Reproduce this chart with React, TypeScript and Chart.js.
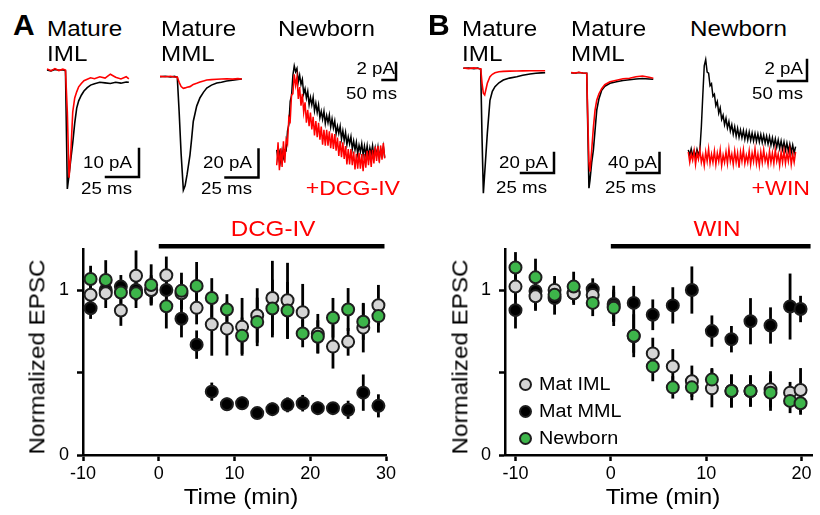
import React, { useEffect, useRef } from 'react';
import { Chart, registerables } from 'chart.js';

Chart.register(...registerables);

const FONT = '"Liberation Sans", Arial, Helvetica, sans-serif';
Chart.defaults.font.family = FONT;
Chart.defaults.color = '#000';

// ---------------- summary data (normalized EPSC) ----------------
const timeA = [-9, -7, -5, -3, -1, 1, 3, 5, 7, 9, 11, 13, 15, 17, 19, 21, 23, 25, 27, 29];
const matIML_A = [0.971, 0.981, 0.876, 1.087, 1.0, 1.09, 0.98, 0.892, 0.792, 0.766, 0.777, 0.846, 0.952, 0.938, 0.866, 0.735, 0.657, 0.686, 0.772, 0.908];
const matIML_A_err = [0.06, 0.09, 0.093, 0.153, 0.08, 0.113, 0.08, 0.1, 0.19, 0.163, 0.175, 0.165, 0.225, 0.227, 0.171, 0.12, 0.133, 0.084, 0.15, 0.123];
const matMML_A = [0.89, 1.0, 1.021, 1.0, 1.0, 1.0, 0.826, 0.669, 0.384, 0.308, 0.314, 0.254, 0.278, 0.304, 0.314, 0.284, 0.284, 0.274, 0.378, 0.298];
const matMML_A_err = [0.065, 0.06, 0.07, 0.06, 0.09, 0.06, 0.113, 0.086, 0.055, 0.04, 0.04, 0.03, 0.04, 0.045, 0.05, 0.04, 0.035, 0.055, 0.11, 0.07];
const newborn_A = [1.067, 1.061, 0.985, 0.981, 1.031, 0.902, 0.995, 1.025, 0.952, 0.882, 0.723, 0.807, 0.888, 0.876, 0.737, 0.717, 0.832, 0.882, 0.808, 0.842];
const newborn_A_err = [0.08, 0.12, 0.07, 0.09, 0.125, 0.135, 0.11, 0.145, 0.12, 0.093, 0.11, 0.147, 0.175, 0.173, 0.084, 0.1, 0.12, 0.13, 0.11, 0.1];

const timeB = [-10, -7.9, -5.9, -3.9, -1.9, 0.3, 2.4, 4.4, 6.5, 8.5, 10.6, 12.65, 14.65, 16.75, 18.8, 19.9];
const matIML_B = [1.021, 0.962, 1.001, 0.981, 0.97, 0.9, 0.72, 0.616, 0.537, 0.447, 0.404, 0.388, 0.388, 0.398, 0.378, 0.394];
const matIML_B_err = [0.08, 0.08, 0.084, 0.06, 0.06, 0.09, 0.1, 0.095, 0.105, 0.095, 0.115, 0.1, 0.095, 0.11, 0.065, 0.133];
const matMML_B = [0.878, 0.994, 0.951, 0.98, 1.005, 0.916, 0.922, 0.85, 0.907, 1.0, 0.751, 0.702, 0.811, 0.785, 0.9, 0.885];
const matMML_B_err = [0.111, 0.12, 0.1, 0.07, 0.066, 0.11, 0.103, 0.093, 0.11, 0.143, 0.095, 0.08, 0.14, 0.11, 0.2, 0.08];
const newborn_B = [1.137, 1.077, 0.971, 1.021, 0.922, 0.892, 0.723, 0.537, 0.41, 0.41, 0.457, 0.388, 0.388, 0.378, 0.328, 0.314];
const newborn_B_err = [0.093, 0.113, 0.06, 0.09, 0.08, 0.11, 0.13, 0.09, 0.068, 0.078, 0.07, 0.1, 0.095, 0.11, 0.074, 0.07];

const xTicksA = [-10, 0, 10, 20, 30];
const xTicksB = [-10, 0, 10, 20];
const yTicks = [0, 0.5, 1];
const drugA = [0, 29.8];
const drugB = [0, 20.95];

// ---------------- example EPSC traces (ms, pA) ----------------
const tIML_A = [0, 3, 6, 9, 12, 14, 15.4, 16.7, 18, 19.5, 21, 22.5, 24, 26, 28, 30.5, 33, 36, 40, 44, 48, 52, 56, 60, 62];
const blackIML_A = [0, -0.3, 0.2, -0.1, 0.1, -0.3, -42.5, -37.5, -32, -26, -19, -13.6, -11, -9, -7.5, -6.3, -5.4, -4.9, -4.4, -4.6, -4.8, -4.4, -4.7, -4.3, -4.4];
const redIML_A = [0.4, -0.3, 0.5, -0.2, 0.3, 0, -15, -38.5, -30, -15, -10, -7.8, -6, -4.8, -3.8, -3.3, -2.8, -3.1, -2.4, -2.9, -1.5, -2.6, -3.2, -2.4, -3.2];

const tMML_A = [0, 4, 8, 11, 13.1, 14.5, 16, 17.7, 19, 20.5, 22.7, 24, 25.2, 27.8, 30.3, 33, 35.4, 39, 43, 46.5, 50.5, 55, 59, 62];
const blackMML_A = [0, 0.3, -0.2, 0.2, -0.5, -25, -55, -81, -78, -70, -56, -44, -32, -21, -15, -11, -8.1, -6, -4.5, -4, -3.1, -2.5, -1.9, -1.6];
const redMML_A = [0.2, 0, 0.3, -0.2, -0.3, -4, -7, -8.3, -8, -7.5, -7.1, -6.3, -5.5, -4.7, -3.8, -3, -2.4, -2.1, -1.8, -1.6, -1.5, -1.7, -1.4, -1.6];

const tNB_A = [0, 5, 10, 15, 20, 25, 30, 35, 40, 45, 50, 55, 60, 65, 70, 75, 80, 85, 90, 95, 100, 105, 110, 115, 120, 125, 130, 135, 140, 145, 150, 155, 160, 165, 170, 175, 180, 185, 190, 195, 200, 205, 210, 215, 220, 225, 230, 235, 240, 245, 250, 255, 260, 265, 270, 275, 280, 285, 290, 295, 300, 305, 310, 315, 320, 325, 330, 335, 340, 345, 350, 355, 360, 365, 370, 375, 380, 385, 390, 395, 400];
const blackNB_A = [0.6, -0.5, 0.3, -0.8, 0.5, -0.3, 0.6, 0.5, 2.8, 3.6, 6.3, 7.0, 9.4, 10.5, 9.8, 10.2, 8.6, 9.4, 8.3, 8.9, 7.2, 7.8, 6.7, 7.5, 5.9, 6.8, 5.9, 6.8, 5.2, 6.1, 5.0, 5.9, 4.4, 5.15, 4.2, 5.15, 3.7, 4.65, 3.8, 4.7, 3.3, 4.25, 3.2, 4.0, 2.5, 3.4, 2.55, 3.4, 1.9, 2.85, 1.7, 2.65, 1.2, 2.15, 1.3, 2.15, 0.7, 1.65, 0.6, 1.5, 0.1, 1.15, 0.4, 1.35, 0.0, 1.05, 0.0, 1.1, -0.25, 0.85, 0.1, 1.1, -0.2, 0.85, -0.05, 0.95, -0.4, 0.7, 0.0, 1.0, -0.3];
const redNB_A = [-1.2, 1.5, -1.8, 0.8, -1.4, 1.6, -0.9, 1.8, 1.3, 4.4, 4.0, 7.1, 7.2, 9.5, 8.2, 9.2, 6.6, 8.0, 5.8, 7.2, 5.0, 6.2, 3.8, 5.3, 3.4, 5.0, 3.0, 4.5, 2.3, 4.0, 2.1, 3.8, 1.8, 3.35, 1.2, 2.95, 1.1, 2.95, 1.1, 2.8, 0.8, 2.55, 0.7, 2.45, 0.5, 2.05, -0.1, 1.65, -0.25, 1.5, -0.45, 1.05, -1.1, 0.7, -1.1, 0.7, -1.2, 0.4, -1.7, 0.15, -1.6, 0.25, -1.6, 0.1, -1.9, 0.1, -1.5, 0.5, -1.2, 0.55, -1.4, 0.6, -1.0, 1.0, -0.7, 1.05, -0.9, 1.1, -0.55, 1.4, -0.4];

const tIML_B = [0, 4, 8, 11, 13.2, 14.2, 15.2, 16.2, 18.2, 20.2, 22, 24, 27, 30.3, 35, 40.5, 45, 50.5, 55, 59, 62];
const blackIML_B = [0, 0.3, -0.3, 0.2, -1, -70, -125, -105, -65, -32, -23, -18.4, -14.5, -11.7, -9.8, -8.4, -7, -5.7, -5, -4.6, -4.4];
const redIML_B = [0.3, -0.3, 0.4, -0.2, -0.5, -15, -25, -26.7, -15, -8.5, -6, -4.5, -3.5, -3.1, -2.8, -2.7, -2.6, -2.5, -2.4, -2.5, -2.4];

const tMML_B = [0, 3, 6, 9, 12.1, 13, 13.8, 14.6, 15.9, 17.2, 18.5, 19.8, 21.5, 23.6, 26, 30, 35, 40, 45, 50, 55, 60, 63.3];
const blackMML_B = [0, -1, 0.5, -0.5, -1, -120, -231, -215, -180, -155, -115, -75, -52, -35, -27, -21, -18, -15.5, -14, -12.5, -11.5, -12.5, -13.2];
const redMML_B = [0.5, -0.8, 1, -0.5, -1, -100, -180, -198, -155, -110, -75, -55, -42, -32, -24, -18, -15, -12, -11, -8, -6.6, -9, -11.2];

const tNB_B = [0, 2.5, 5, 7.5, 10, 12.5, 15, 17.5, 20, 22.5, 25, 27.5, 30, 32.5, 35, 37.5, 40, 42.5, 45, 47.5, 50, 52.5, 55, 57.5, 60, 62.5, 65, 67.5, 70, 72.5, 75, 77.5, 80, 82.5, 85, 87.5, 90, 92.5, 95, 97.5, 100, 102.5, 105, 107.5, 110, 112.5, 115, 117.5, 120, 122.5, 125, 127.5, 130, 132.5, 135, 137.5, 140, 142.5, 145, 147.5, 150, 152.5, 155, 157.5, 160, 162.5, 165, 167.5, 170, 172.5, 175, 177.5, 180, 182.5, 185];
const blackNB_B = [0.3, -0.2, 0.4, -0.3, 0.2, -0.35, 0.35, -0.2, 0.3, 2.5, 5.5, 8.3, 8.9, 7.7, 7.6, 6.4, 6.6, 5.4, 5.6, 4.5, 4.9, 3.8, 4.3, 3.2, 3.6, 2.7, 3.3, 2.4, 3.0, 2.1, 2.7, 1.8, 2.5, 1.6, 2.35, 1.5, 2.2, 1.45, 2.15, 1.3, 2.05, 1.25, 2.0, 1.2, 1.9, 1.15, 1.85, 1.1, 1.8, 1.05, 1.75, 1.0, 1.7, 0.95, 1.6, 0.85, 1.55, 0.75, 1.45, 0.65, 1.35, 0.55, 1.25, 0.45, 1.15, 0.35, 1.05, 0.25, 0.95, 0.15, 0.85, 0.05, 0.75, 0.0, 0.6];
const redNB_B = [0.1, -0.9, -0.1, -0.7, 0.2, -1.1, 0.0, -0.6, 0.3, -0.9, -0.2, -1.2, 0.1, -0.8, 0.4, -1.0, -0.1, -0.9, 0.2, -1.1, 0.0, -0.8, 0.3, -1.2, -0.2, -0.9, 0.1, -1.0, 0.4, -0.8, -0.1, -1.1, 0.2, -0.9, 0.0, -1.4, 0.1, -0.8, 0.3, -1.0, -0.2, -0.9, 0.2, -1.1, 0.0, -0.8, 0.4, -1.0, -0.1, -1.2, 0.1, -0.9, 0.3, -0.8, -0.2, -1.1, 0.2, -0.9, 0.0, -1.0, 0.3, -0.8, -0.1, -1.2, 0.1, -0.9, 0.2, -1.0, 0.0, -0.8, 0.3, -1.1, -0.1, -0.9, 0.1];

// ---------------- styles ----------------
const RED = '#ff0000';
const GREEN = '#3db54a';
const GRAY = '#d5d5d5';
const BLACK = '#000000';
const EDGE = '#1e1e1e';

// ---------------- helpers ----------------
function Txt(props: any) {
  const { x, y, size, color = '#000', weight = 400, align = 'left', rot = 0, sx = 1.1, children } = props;
  const tx = align === 'left' ? '0%' : align === 'center' ? '-50%' : '-100%';
  const ox = align === 'left' ? '0%' : align === 'center' ? '50%' : '100%';
  return (
    <div style={{ position: 'absolute', left: x, top: y, transform: rot ? `rotate(${rot}deg)` : undefined, transformOrigin: '0 0' }}>
      <div
        style={{
          position: 'absolute', left: 0, top: 0, whiteSpace: 'nowrap',
          fontFamily: FONT, fontWeight: weight, fontSize: size, lineHeight: `${size}px`, color,
          transform: `translate(${tx}, ${-0.8465 * size}px) scaleX(${sx})`, transformOrigin: `${ox} 0`,
        }}
      >
        {children}
      </div>
    </div>
  );
}

function ChartBox({ left, top, width, height, make }: any) {
  const ref = useRef<HTMLCanvasElement>(null);
  useEffect(() => {
    const chart = new Chart(ref.current as HTMLCanvasElement, make());
    return () => chart.destroy();
  }, []);
  return <canvas ref={ref} width={width} height={height} style={{ position: 'absolute', left, top, width, height }} />;
}

function traceConfig(c: any) {
  const xmin = -(c.ox - c.left) / c.pxMs;
  const xmax = (c.left + c.width - c.ox) / c.pxMs;
  const ymax = (c.oy - c.top) / c.pxPA;
  const ymin = -(c.top + c.height - c.oy) / c.pxPA;
  const pts = (v: number[]) => c.t.map((t: number, i: number) => ({ x: t, y: v[i] }));
  const scaleBar = {
    id: 'scaleBar',
    afterDatasetsDraw(chart: any) {
      const xs = chart.scales.x, ys = chart.scales.y, ctx = chart.ctx;
      const w = xs.getPixelForValue(c.barMs) - xs.getPixelForValue(0);
      const h = ys.getPixelForValue(0) - ys.getPixelForValue(c.barPA);
      const cx = c.barX - c.left, cy = c.barY - c.top;
      ctx.save();
      ctx.strokeStyle = '#000';
      ctx.lineWidth = 2.5;
      ctx.lineCap = 'square';
      ctx.beginPath();
      ctx.moveTo(cx - w, cy);
      ctx.lineTo(cx, cy);
      ctx.lineTo(cx, cy - h);
      ctx.stroke();
      ctx.restore();
    },
  };
  return {
    type: 'line',
    data: {
      datasets: [
        { data: pts(c.red), borderColor: RED, borderWidth: c.lw, pointRadius: 0, tension: 0, order: 0, clip: false },
        { data: pts(c.black), borderColor: BLACK, borderWidth: c.lw, pointRadius: 0, tension: 0, order: 1, clip: false },
      ],
    },
    options: {
      responsive: false, animation: false, events: [],
      layout: { padding: 0 },
      plugins: { legend: { display: false }, tooltip: { enabled: false } },
      scales: {
        x: { type: 'linear', min: xmin, max: xmax, display: false },
        y: { type: 'linear', min: ymin, max: ymax, display: false },
      },
    },
    plugins: [scaleBar],
  };
}

function scatterConfig(p: any) {
  const mk = (label: string, vals: number[], err: number[], fill: string, order: number) => ({
    label, err, order,
    data: p.time.map((x: number, i: number) => ({ x, y: vals[i] })),
    backgroundColor: fill, borderColor: EDGE, borderWidth: 2, pointRadius: 6, showLine: false,
  });
  const errBars = {
    id: 'errBars',
    beforeDatasetsDraw(chart: any) {
      const xs = chart.scales.x, ys = chart.scales.y, ctx = chart.ctx;
      ctx.save();
      ctx.strokeStyle = '#000';
      ctx.lineWidth = 2.8;
      chart.data.datasets.forEach((ds: any) => {
        ds.data.forEach((pt: any, i: number) => {
          const e = ds.err[i];
          const x = xs.getPixelForValue(pt.x);
          ctx.beginPath();
          ctx.moveTo(x, ys.getPixelForValue(pt.y + e));
          ctx.lineTo(x, ys.getPixelForValue(pt.y - e));
          ctx.stroke();
        });
      });
      ctx.restore();
    },
  };
  const drugBar = {
    id: 'drugBar',
    afterDraw(chart: any) {
      const xs = chart.scales.x, ctx = chart.ctx;
      const y = chart.chartArea.top - 2.5;
      ctx.save();
      ctx.strokeStyle = '#000';
      ctx.lineWidth = 4.5;
      ctx.beginPath();
      ctx.moveTo(xs.getPixelForValue(p.drug[0]), y);
      ctx.lineTo(xs.getPixelForValue(p.drug[1]), y);
      ctx.stroke();
      ctx.restore();
    },
  };
  const grid = { display: true, drawOnChartArea: false, drawTicks: true, tickLength: 6, tickWidth: 2.5, tickColor: '#000' };
  const border = { display: true, color: '#000', width: 2.5 };
  return {
    type: 'scatter',
    data: {
      datasets: [
        mk('Newborn', p.nb, p.nbErr, GREEN, 0),
        mk('Mat IML', p.iml, p.imlErr, GRAY, 1),
        mk('Mat MML', p.mml, p.mmlErr, BLACK, 2),
      ],
    },
    options: {
      responsive: false, animation: false, events: [],
      layout: { padding: { left: 0, right: p.padRight, top: 15, bottom: 0 } },
      plugins: { legend: { display: false }, tooltip: { enabled: false } },
      scales: {
        x: {
          type: 'linear', min: p.xmin, max: p.xmax,
          afterFit: (s: any) => { s.height = 60; },
          afterBuildTicks: (s: any) => { s.ticks = p.xticks.map((v: number) => ({ value: v })); },
          grid, border,
          ticks: { color: '#000', font: { size: 18 }, padding: 2, maxRotation: 0, autoSkip: false },
        },
        y: {
          type: 'linear', min: 0, max: 1.25,
          afterFit: (s: any) => { s.width = p.yWidth; },
          afterBuildTicks: (s: any) => { s.ticks = yTicks.map((v) => ({ value: v })); },
          grid, border,
          ticks: { color: '#000', font: { size: 18 }, padding: 8, callback: (v: number) => (v === 0.5 ? '' : String(v)) },
        },
      },
    },
    plugins: [errBars, drugBar],
  };
}

const traces = [
  { left: 44, top: 58, width: 100, height: 137, ox: 47, oy: 70, pxMs: 1.32, pxPA: 2.8, t: tIML_A, black: blackIML_A, red: redIML_A, barX: 139, barY: 177, barPA: 10, barMs: 25, lw: 1.6 },
  { left: 157, top: 62, width: 105, height: 135, ox: 160, oy: 76.7, pxMs: 1.32, pxPA: 1.4, t: tMML_A, black: blackMML_A, red: redMML_A, barX: 258.5, barY: 177.5, barPA: 20, barMs: 25, lw: 1.6 },
  { left: 272, top: 55, width: 130, height: 125, ox: 276.7, oy: 155, pxMs: 0.27, pxPA: 8.5, t: tNB_A, black: blackNB_A, red: redNB_A, barX: 396, barY: 80, barPA: 2, barMs: 50, lw: 1.5 },
  { left: 460, top: 58, width: 100, height: 140, ox: 463.3, oy: 68.3, pxMs: 1.32, pxPA: 1.0, t: tIML_B, black: blackIML_B, red: redIML_B, barX: 554, barY: 173, barPA: 20, barMs: 25, lw: 1.6 },
  { left: 568, top: 60, width: 95, height: 135, ox: 571, oy: 72.7, pxMs: 1.3, pxPA: 0.5, t: tMML_B, black: blackMML_B, red: redMML_B, barX: 659.5, barY: 173, barPA: 40, barMs: 25, lw: 1.6 },
  { left: 684, top: 52, width: 128, height: 120, ox: 688.3, oy: 153, pxMs: 0.58, pxPA: 10.5, t: tNB_B, black: blackNB_B, red: redNB_B, barX: 807, barY: 81, barPA: 2, barMs: 50, lw: 1.5 },
];

const panelA = { time: timeA, iml: matIML_A, imlErr: matIML_A_err, mml: matMML_A, mmlErr: matMML_A_err, nb: newborn_A, nbErr: newborn_A_err, xmin: -10, xmax: 30, xticks: xTicksA, drug: drugA, padRight: 24, yWidth: 83 };
const panelB = { time: timeB, iml: matIML_B, imlErr: matIML_B_err, mml: matMML_B, mmlErr: matMML_B_err, nb: newborn_B, nbErr: newborn_B_err, xmin: -11.1, xmax: 21.1, xticks: xTicksB, drug: drugB, padRight: 8, yWidth: 95 };

const legendItems = [
  { label: 'Mat IML', fill: GRAY },
  { label: 'Mat MML', fill: BLACK },
  { label: 'Newborn', fill: GREEN },
];

export default function App() {
  return (
    <div style={{ position: 'absolute', left: 0, top: 0, width: 820, height: 515, background: '#fff', overflow: 'hidden', fontFamily: FONT }}>
      {traces.map((c, i) => (
        <ChartBox key={'tr' + i} left={c.left} top={c.top} width={c.width} height={c.height} make={() => traceConfig(c)} />
      ))}
      <ChartBox left={0} top={230} width={410} height={285} make={() => scatterConfig(panelA)} />
      <ChartBox left={410} top={230} width={410} height={285} make={() => scatterConfig(panelB)} />

      {/* Panel A labels */}
      <Txt x={13} y={35} size={30} weight={700} sx={1}>A</Txt>
      <Txt x={47} y={37} size={22}>Mature</Txt>
      <Txt x={47} y={62} size={22}>IML</Txt>
      <Txt x={161} y={37} size={22}>Mature</Txt>
      <Txt x={161} y={62} size={22}>MML</Txt>
      <Txt x={278} y={37} size={22}>Newborn</Txt>
      <Txt x={132} y={168} size={17} align="right">10 pA</Txt>
      <Txt x={132} y={194} size={17} align="right">25 ms</Txt>
      <Txt x={252} y={168} size={17} align="right">20 pA</Txt>
      <Txt x={252} y={194} size={17} align="right">25 ms</Txt>
      <Txt x={395} y={74} size={17} align="right">2 pA</Txt>
      <Txt x={397} y={99} size={17} align="right">50 ms</Txt>
      <Txt x={400} y={195} size={21} align="right" color={RED}>+DCG-IV</Txt>
      <Txt x={272.5} y={237} size={22} align="center" color={RED}>DCG-IV</Txt>
      <Txt x={45} y={356.5} size={22} align="center" rot={-90}>Normalized EPSC</Txt>
      <Txt x={241} y={505} size={22} align="center">Time (min)</Txt>

      {/* Panel B labels */}
      <Txt x={428} y={35} size={30} weight={700} sx={1}>B</Txt>
      <Txt x={462} y={37} size={22}>Mature</Txt>
      <Txt x={462} y={62} size={22}>IML</Txt>
      <Txt x={571} y={37} size={22}>Mature</Txt>
      <Txt x={571} y={62} size={22}>MML</Txt>
      <Txt x={690} y={37} size={22}>Newborn</Txt>
      <Txt x={548} y={168} size={17} align="right">20 pA</Txt>
      <Txt x={547} y={193} size={17} align="right">25 ms</Txt>
      <Txt x={657} y={168} size={17} align="right">40 pA</Txt>
      <Txt x={656} y={193} size={17} align="right">25 ms</Txt>
      <Txt x={803} y={74} size={17} align="right">2 pA</Txt>
      <Txt x={803} y={99} size={17} align="right">50 ms</Txt>
      <Txt x={810} y={195} size={21} align="right" color={RED}>+WIN</Txt>
      <Txt x={716.5} y={237} size={22} align="center" color={RED}>WIN</Txt>
      <Txt x={468} y={356.5} size={22} align="center" rot={-90}>Normalized EPSC</Txt>
      <Txt x={662.5} y={505} size={22} align="center">Time (min)</Txt>

      {legendItems.map((it, i) => (
        <React.Fragment key={it.label}>
          <div style={{ position: 'absolute', left: 525 - 6.5, top: 384 + i * 27 - 6.5, width: 9, height: 9, borderRadius: '50%', border: `2px solid ${EDGE}`, background: it.fill }} />
          <Txt x={539} y={390.4 + i * 27} size={18}>{it.label}</Txt>
        </React.Fragment>
      ))}
    </div>
  );
}
